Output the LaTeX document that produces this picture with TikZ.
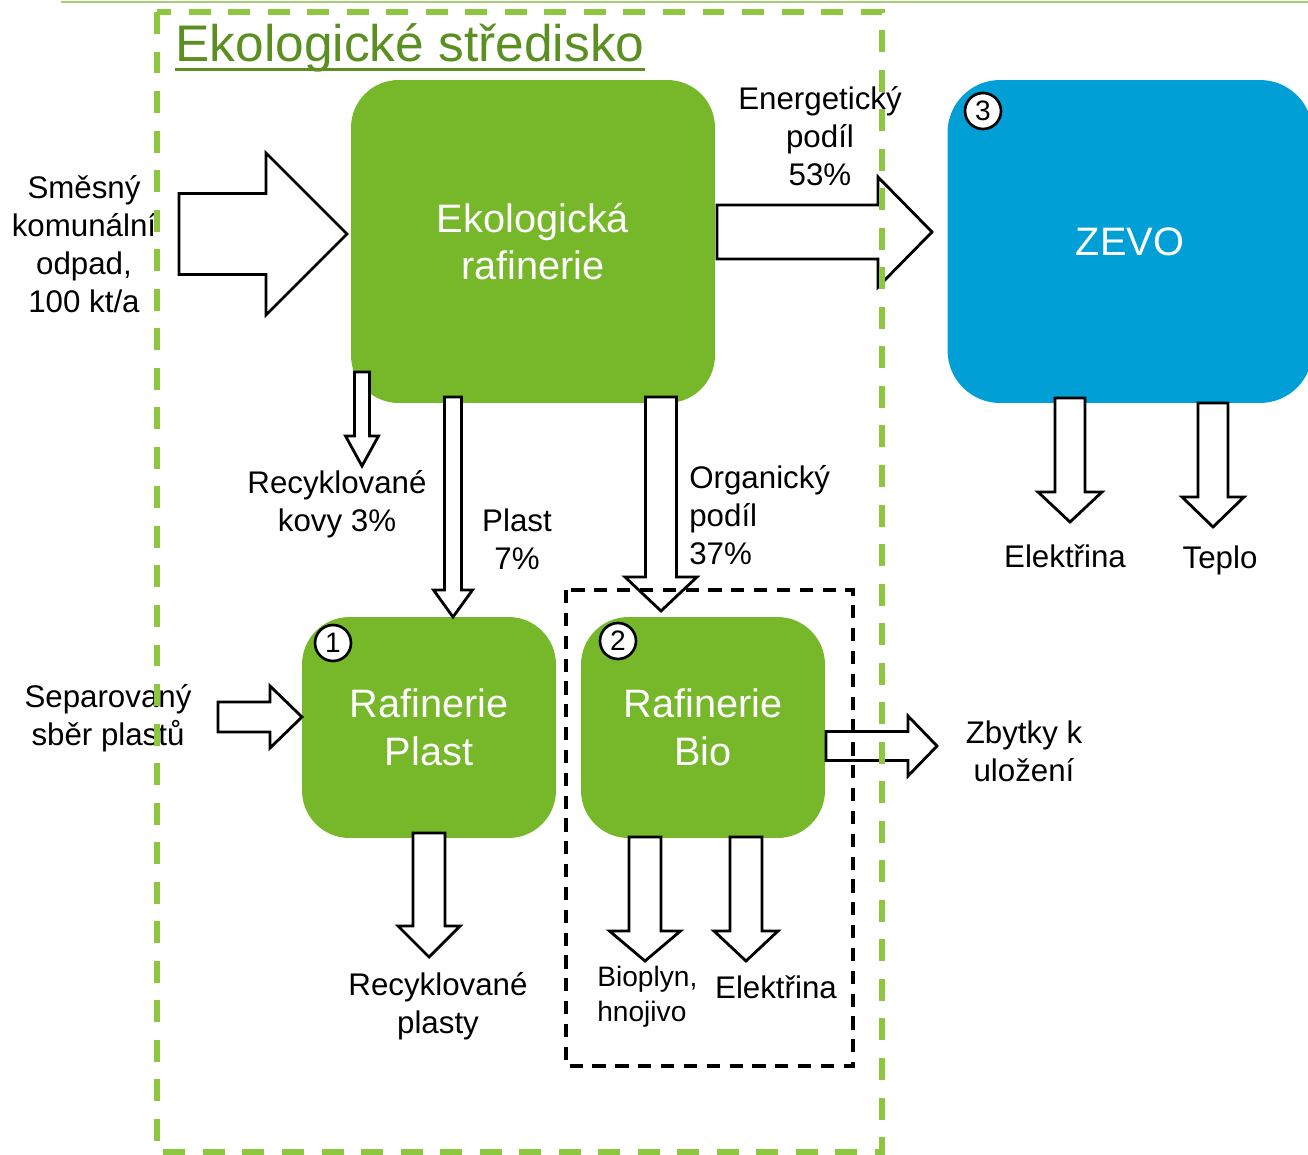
\documentclass[tikz,border=0pt]{standalone}
\usepackage{fontspec}
\setmainfont{Liberation Sans}
\usetikzlibrary{calc}
\definecolor{ecogreen}{HTML}{76B82A}
\definecolor{zevoblue}{HTML}{00A0D6}
\definecolor{framegreen}{HTML}{8DC63F}
\definecolor{titlegreen}{HTML}{5B8F22}
\definecolor{linegreen}{HTML}{A3CF72}
\tikzset{
  greenbox/.style={rectangle,rounded corners=0.95cm,fill=ecogreen,text=white,align=center,
    font=\fontsize{22.6}{27.2}\selectfont},
  bluebox/.style={greenbox,fill=zevoblue,rounded corners=1.05cm},
  numcircle/.style={circle,draw,line width=1.5pt,fill=white,minimum size=0.72cm,inner sep=0pt,
    font=\fontsize{16}{16}\selectfont},
  lbl/.style={align=center,inner sep=0pt,font=\fontsize{17.8}{21.5}\selectfont},
  smalllbl/.style={align=left,inner sep=0pt,font=\fontsize{16}{19.8}\selectfont},
  blockarrow/.style={draw,line width=1.6pt,fill=white,line join=miter},
  ecoframe/.style={draw=framegreen,line width=3.2pt,dash pattern=on 12.5pt off 10pt},
  bioframe/.style={draw,line width=2pt,dash pattern=on 7.5pt off 5.5pt}
}
% block arrows: tail, tip, shaft half width, head half width, head length
\newcommand{\rightblock}[5]{%
  \draw[blockarrow] ($(#1)+(0,-#3)$) -- ($(#2)+(-#5,-#3)$) -- ($(#2)+(-#5,-#4)$) -- (#2)
    -- ($(#2)+(-#5,#4)$) -- ($(#2)+(-#5,#3)$) -- ($(#1)+(0,#3)$) -- cycle;}
\newcommand{\downblock}[5]{%
  \draw[blockarrow] ($(#1)+(-#3,0)$) -- ($(#2)+(-#3,-#5)$) -- ($(#2)+(-#4,-#5)$) -- (#2)
    -- ($(#2)+(#4,-#5)$) -- ($(#2)+(#3,-#5)$) -- ($(#1)+(#3,0)$) -- cycle;}

\begin{document}
\begin{tikzpicture}[x=0.02cm,y=-0.02cm]
\useasboundingbox (0,0) rectangle (1308,1155);

% Title
\draw[linegreen,line width=1.2pt] (61,2) -- (1308,2);
\node[anchor=base west,inner sep=0pt,text=titlegreen,font=\fontsize{29.3}{34}\selectfont]
  (title) at (175,62) {Ekologické středisko};
\draw[titlegreen,line width=1.7pt] ([yshift=-4.5pt]title.base west) -- ([yshift=-4.5pt]title.base east);

% Plants
\node[greenbox,minimum width=7.28cm,minimum height=6.46cm] (raf) at (533,241.5) {Ekologická\\rafinerie};
\node[bluebox,minimum width=7.3cm,minimum height=6.46cm] (zevo) at (1130,241.5) {ZEVO};
\node[greenbox,minimum width=5.08cm,minimum height=4.42cm] (rplast) at (429,727.5) {Rafinerie\\Plast};
\node[greenbox,minimum width=4.88cm,minimum height=4.42cm] (rbio) at (703,727.5) {Rafinerie\\Bio};

\node[numcircle] (n1) at (333,643) {1};
\node[numcircle] (n2) at (618,641) {2};
\node[numcircle] (n3) at (983,111) {3};

% Labels
\node[lbl] (smesny) at (84,244) {Směsný\\komunální\\odpad,\\100 kt/a};
\node[lbl] (energ) at (820,136) {Energetický\\podíl\\53\%};
\node[lbl] (kovy) at (337,504) {Recyklované\\kovy 3\%};
\node[lbl] (plast) at (517,539) {Plast\\7\%};
\node[lbl,align=left,anchor=west] (organ) at (689,515) {Organický\\podíl\\37\%};
\node[lbl] (elzevo) at (1065,556) {Elektřina};
\node[lbl] (teplo) at (1220,560) {Teplo};
\node[lbl] (separ) at (108,718) {Separovaný\\sběr plastů};
\node[lbl] (zbytky) at (1024,751) {Zbytky k\\uložení};
\node[lbl] (recpl) at (438,1006) {Recyklované\\plasty};
\node[smalllbl,anchor=west] (biopl) at (597,997) {Bioplyn,\\hnojivo};
\node[lbl] (elbio) at (776,987) {Elektřina};

% Flow ends
\coordinate (inA) at (179,234);   \coordinate (inB) at (347,234);
\coordinate (enA) at (717,232);   \coordinate (enB) at (932,232);
\coordinate (kvA) at (362,372);   \coordinate (kvB) at (362,466);
\coordinate (plA) at (453,397);   \coordinate (plB) at (453,617);
\coordinate (orA) at (661,397);   \coordinate (orB) at (661,611);
\coordinate (spA) at (218,717);   \coordinate (spB) at (302,717);
\coordinate (rpA) at (429,833);   \coordinate (rpB) at (429,957);
\coordinate (bgA) at (645,837);   \coordinate (bgB) at (645,961);
\coordinate (ebA) at (746,837);   \coordinate (ebB) at (746,961);
\coordinate (zbA) at (826,746);   \coordinate (zbB) at (937,746);
\coordinate (ezA) at (1070,398);  \coordinate (ezB) at (1070,522);
\coordinate (tpA) at (1213,403);  \coordinate (tpB) at (1213,527);

% Flows
\rightblock{inA}{inB}{40.5}{81}{81}
\rightblock{enA}{enB}{27}{55}{54}
\downblock{kvA}{kvB}{7.5}{16.5}{30}
\downblock{plA}{plB}{8.5}{19.5}{27}
\downblock{orA}{orB}{15.5}{36}{34}
\rightblock{spA}{spB}{15}{31}{32}
\downblock{rpA}{rpB}{16}{31}{31}
\downblock{bgA}{bgB}{16}{35.5}{30}
\downblock{ebA}{ebB}{16}{32}{30}
\rightblock{zbA}{zbB}{14.5}{30}{29}
\downblock{ezA}{ezB}{15}{32}{30}
\downblock{tpA}{tpB}{15}{31}{30}

% Frames
\draw[bioframe] (566,590) rectangle (853,1066);
\draw[ecoframe] (157,12) rectangle (882,1152);

\end{tikzpicture}
\end{document}
